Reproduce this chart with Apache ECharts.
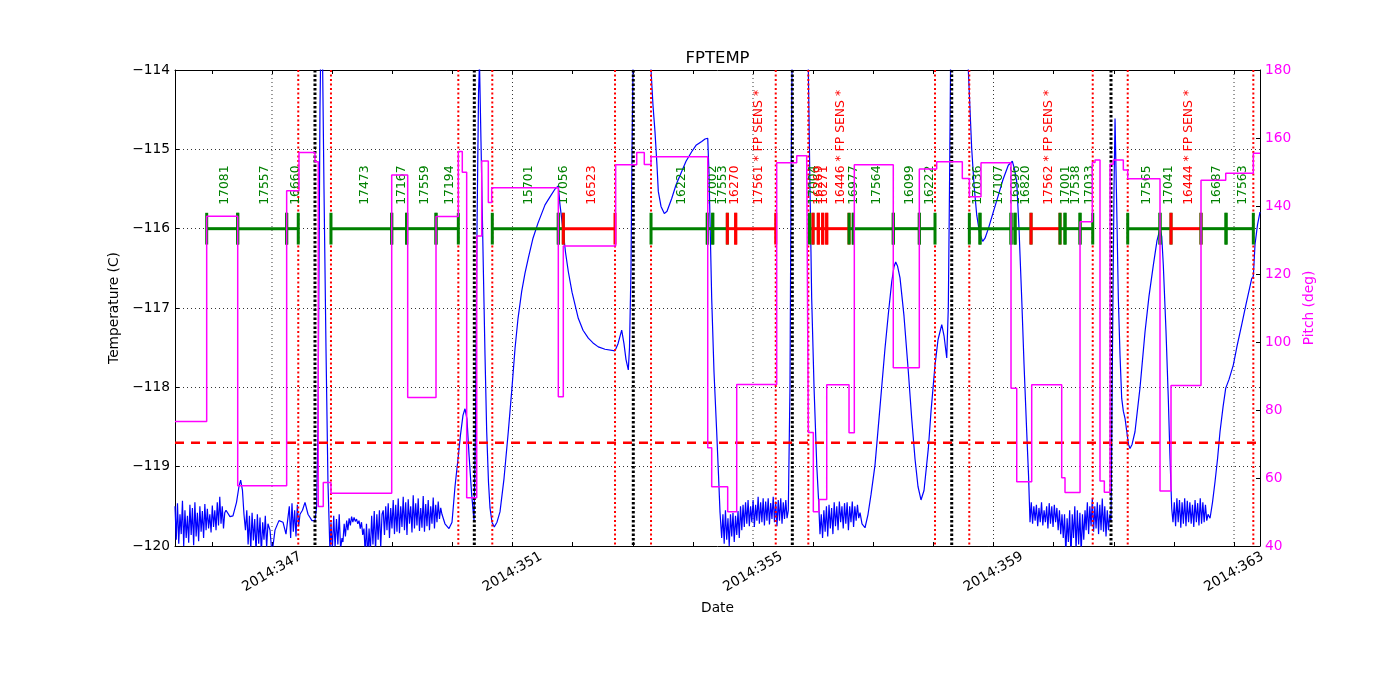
<!DOCTYPE html>
<html><head><meta charset="utf-8">
<script src="https://cdn.jsdelivr.net/npm/echarts@6.0.0/dist/echarts.min.js"></script>
<style>html,body{margin:0;padding:0;background:#fff;}#c{width:1400px;height:700px;}</style>
</head><body><div id="c"></div>
<script>
// ---------------- DATA ----------------
const X_MIN = 345.387, X_MAX = 363.432;
const dayTicks = [346,347,348,349,350,351,352,353,354,355,356,357,358,359,360,361,362,363];
const labelDays = [347,351,355,359,363];
const gridDays = [347,351,355,359,363];
const radZoneDays = [347.437,347.981,350.099,350.664,352.705,353.304,355.378,355.920,358.027,358.597,360.650,361.232,363.321];
const perigeeDays = [347.715,350.365,353.009,355.654,358.305,360.954];
const planLimit = -118.7;

const obsStart = [345.914,346.430,347.244,347.981,348.991,349.240,349.728,350.664,351.762,351.845,353.304,354.240,354.330,354.573,354.712,355.940,355.998,356.086,356.159,356.226,356.597,356.668,357.333,357.766,358.598,358.775,359.291,359.358,359.624,360.106,360.189,360.439,361.232,361.769,361.952,362.451,362.867];
const obsEnd = [346.430,347.244,347.437,348.991,349.240,349.728,350.099,351.762,351.845,352.705,354.240,354.330,354.573,354.712,355.378,355.998,356.086,356.159,356.226,356.597,356.668,357.333,357.766,358.027,358.775,359.291,359.358,359.624,360.106,360.189,360.439,360.650,361.769,361.952,362.451,362.867,363.321];
const obsIds = ['17081','17557','16660','17473','17167','17559','17194','15701','17056','16523','16221','17002','17553','16270','17561 * FP SENS *','17004','16269','16271','','16446 * FP SENS *','16977','17564','16099','16222','17036','17107','16996','16820','17562 * FP SENS *','17001','17538','17033','17565','17041','16444 * FP SENS *','16687','17563'];
const obsFlags = ['g','g','g','g','g','g','g','g','g','r','g','g','g','r','r','g','r','r','r','r','g','g','g','g','g','g','g','g','r','g','g','g','g','g','r','g','g'];

// FPTEMP (deg C): noisy stretches (values spread across a time span) and smooth stretches ([day, temp])
const noise1Span = [345.387, 346.235];
const noise1 = [-119.5,-119.92,-119.46,-119.97,-119.6,-119.85,-119.43,-120.0,-119.55,-119.9,-119.62,-119.96,-119.48,-119.86,-119.52,-119.99,-119.45,-119.88,-119.58,-119.94,-119.5,-119.82,-119.56,-119.9,-119.47,-119.8,-119.53,-119.78,-119.6,-119.83,-119.49,-119.76,-119.55,-119.8,-119.45,-119.74,-119.38,-119.72,-119.5,-119.78,-119.58,-119.55];
const smooth1 = [[346.268,-119.55],[346.301,-119.63],[346.351,-119.62],[346.410,-119.45],[346.451,-119.25],[346.479,-119.17],[346.509,-119.3],[346.534,-119.6]];
const noise2Span = [346.559, 346.933];
const noise2 = [-119.8,-119.55,-119.98,-119.62,-120.05,-119.58,-119.93,-119.66,-120.08,-119.6,-119.97,-119.64,-120.1,-119.7,-119.92,-119.62,-120.02,-119.72];
const smooth2 = [[346.967,-119.8],[347.000,-120.1],[347.050,-119.8],[347.116,-119.68],[347.183,-119.7],[347.233,-119.85]];
const noise3Span = [347.266, 347.466];
const noise3 = [-119.85,-119.5,-119.9,-119.46,-119.82,-119.55,-119.88,-119.48,-119.75,-119.6];
const smooth3 = [[347.507,-119.55],[347.549,-119.45],[347.599,-119.6],[347.665,-119.68],[347.715,-119.68],[347.743,-119.5],[347.765,-118.5],[347.782,-116.5],[347.798,-114.5],[347.815,-113.5],[347.840,-113.8],[347.865,-115.5],[347.898,-117.5],[347.931,-119.2],[347.965,-120.1]];
const noise4aSpan = [347.981, 348.164];
const noise4a = [-119.7,-120.05,-119.62,-120.02,-119.66,-119.98,-119.6,-120.04,-119.9];
const noise4bSpan = [348.18, 348.53];
const noise4b = [-119.95,-119.72,-119.88,-119.68,-119.8,-119.65,-119.74,-119.63,-119.7,-119.64,-119.69,-119.66,-119.72,-119.68,-119.78,-119.7,-119.86,-119.78];
const noise4cSpan = [348.55, 348.83];
const noise4c = [-120.1,-119.72,-120.15,-119.78,-120.08,-119.62,-119.98,-119.56,-120.06,-119.6,-119.92,-119.55,-120.02,-119.6];
const noise4dSpan = [348.85, 349.827];
const noise4d = [-119.55,-119.86,-119.5,-119.8,-119.46,-119.9,-119.52,-119.78,-119.42,-119.85,-119.48,-119.82,-119.4,-119.84,-119.5,-119.76,-119.38,-119.8,-119.45,-119.86,-119.41,-119.72,-119.5,-119.83,-119.36,-119.78,-119.46,-119.74,-119.4,-119.81,-119.52,-119.77,-119.37,-119.82,-119.47,-119.75,-119.42,-119.8,-119.5,-119.72,-119.39,-119.78,-119.48,-119.7,-119.44,-119.66,-119.52,-119.6];
const smooth4 = [[349.877,-119.72],[349.944,-119.78],[349.994,-119.7],[350.044,-119.25],[350.094,-118.9],[350.135,-118.6],[350.177,-118.35],[350.210,-118.27],[350.243,-118.4],[350.277,-118.85],[350.321,-119.35],[350.360,-119.68],[350.385,-118.5],[350.410,-116],[350.435,-114.3],[350.451,-113.9],[350.476,-114.9],[350.514,-116.46],[350.543,-117.6],[350.571,-118.56],[350.601,-119.2],[350.626,-119.52],[350.659,-119.7],[350.697,-119.76],[350.742,-119.7],[350.792,-119.57],[350.859,-119.15],[350.930,-118.56],[350.992,-118.0],[351.042,-117.51],[351.092,-117.13],[351.153,-116.79],[351.208,-116.56],[351.263,-116.37],[351.341,-116.12],[351.424,-115.93],[351.541,-115.70],[351.624,-115.6],[351.707,-115.5],[351.762,-115.46],[351.790,-115.7],[351.845,-116.04],[351.882,-116.3],[351.928,-116.54],[351.990,-116.8],[352.094,-117.13],[352.173,-117.28],[352.261,-117.38],[352.339,-117.44],[352.427,-117.49],[352.538,-117.52],[352.705,-117.54],[352.755,-117.45],[352.816,-117.28],[352.854,-117.45],[352.888,-117.65],[352.926,-117.78],[352.946,-117.5],[352.971,-116.5],[352.988,-115.0],[353.004,-114.0],[353.021,-113.0],[353.121,-112.0],[353.254,-113.0],[353.304,-114.0],[353.337,-114.45],[353.370,-114.78],[353.403,-115.2],[353.425,-115.53],[353.470,-115.72],[353.525,-115.81],[353.570,-115.78],[353.648,-115.62],[353.719,-115.45],[353.814,-115.28],[353.886,-115.15],[353.980,-115.03],[354.052,-114.95],[354.147,-114.90],[354.202,-114.87],[354.247,-114.86],[354.268,-115.3],[354.313,-116.88],[354.351,-117.8],[354.396,-118.56],[354.426,-119.1],[354.451,-119.57]];
const noise5Span = [354.479, 355.587];
const noise5 = [-119.9,-119.6,-119.97,-119.55,-119.92,-119.65,-120.0,-119.6,-119.88,-119.58,-119.95,-119.62,-119.86,-119.56,-119.9,-119.5,-119.8,-119.48,-119.76,-119.45,-119.72,-119.42,-119.75,-119.5,-119.7,-119.42,-119.76,-119.48,-119.68,-119.38,-119.72,-119.45,-119.7,-119.4,-119.74,-119.44,-119.68,-119.4,-119.73,-119.46,-119.66,-119.38,-119.7,-119.44,-119.75,-119.42,-119.68,-119.4,-119.72,-119.45,-119.66,-119.42,-119.65,-119.55];
const smooth5 = [[355.615,-118.0],[355.632,-115.5],[355.654,-113.5],[355.882,-113.5],[355.920,-114.0],[355.948,-115.5],[355.976,-116.88],[356.015,-118.0],[356.060,-118.98],[356.089,-119.4]];
const noise6Span = [356.114, 356.780];
const noise6 = [-119.85,-119.6,-119.9,-119.55,-119.82,-119.5,-119.88,-119.48,-119.78,-119.52,-119.85,-119.45,-119.75,-119.5,-119.8,-119.44,-119.7,-119.5,-119.78,-119.46,-119.72,-119.45,-119.8,-119.5,-119.7,-119.44,-119.76,-119.5,-119.68,-119.48,-119.65,-119.58];
const smooth6 = [[356.813,-119.72],[356.863,-119.77],[356.913,-119.6],[356.963,-119.35],[357.029,-118.98],[357.112,-118.25],[357.195,-117.51],[357.254,-117.05],[357.307,-116.67],[357.345,-116.48],[357.373,-116.42],[357.403,-116.47],[357.445,-116.62],[357.511,-117.1],[357.583,-117.80],[357.640,-118.4],[357.694,-118.9],[357.744,-119.25],[357.794,-119.42],[357.844,-119.3],[357.916,-118.77],[357.961,-118.3],[358.027,-117.72],[358.077,-117.4],[358.139,-117.21],[358.177,-117.35],[358.222,-117.63],[358.248,-117.0],[358.268,-115.5],[358.285,-114.0],[358.301,-113.0],[358.543,-113.0],[358.581,-114.0],[358.637,-114.99],[358.676,-115.45],[358.721,-115.83],[358.767,-116.05],[358.820,-116.16],[358.859,-116.12],[358.914,-116.0],[358.992,-115.8],[359.080,-115.58],[359.158,-115.38],[359.246,-115.2],[359.313,-115.15],[359.349,-115.25],[359.386,-115.41],[359.424,-116.0],[359.469,-116.88],[359.507,-117.7],[359.552,-118.56],[359.582,-119.1]];
const noise7aSpan = [359.607, 360.139];
const noise7a = [-119.7,-119.45,-119.72,-119.5,-119.68,-119.48,-119.75,-119.52,-119.7,-119.45,-119.74,-119.55,-119.7,-119.5,-119.78,-119.46,-119.72,-119.5,-119.76,-119.48,-119.7,-119.52,-119.8,-119.55,-119.85,-119.6];
const noise7bSpan = [360.16, 360.522];
const noise7b = [-119.9,-119.6,-120.1,-119.65,-119.95,-119.55,-120.15,-119.6,-119.9,-119.5,-120.05,-119.55,-119.98,-119.58,-120.1,-119.6,-119.92,-119.55];
const noise7cSpan = [360.54, 360.954];
const noise7c = [-119.8,-119.45,-119.85,-119.5,-119.75,-119.4,-119.82,-119.5,-119.78,-119.45,-119.85,-119.48,-119.8,-119.4,-119.82,-119.5,-119.88,-119.55,-119.8,-119.6,-119.7];
const smooth7 = [[360.979,-117.5],[361.004,-115.5],[361.021,-114.61],[361.046,-115.6],[361.076,-116.88],[361.104,-117.6],[361.132,-118.14],[361.159,-118.3],[361.187,-118.39],[361.215,-118.55],[361.245,-118.72],[361.270,-118.77],[361.304,-118.72],[361.353,-118.56],[361.437,-118.0],[361.520,-117.30],[361.586,-116.85],[361.658,-116.46],[361.719,-116.15],[361.769,-116.0],[361.798,-116.1],[361.824,-116.46],[361.869,-117.3],[361.907,-118.14],[361.936,-118.9],[361.964,-119.53]];
const noise8Span = [361.985, 362.568];
const noise8 = [-119.7,-119.45,-119.75,-119.4,-119.7,-119.42,-119.77,-119.45,-119.72,-119.4,-119.75,-119.43,-119.7,-119.45,-119.72,-119.48,-119.76,-119.42,-119.7,-119.46,-119.74,-119.4,-119.72,-119.45,-119.7,-119.48,-119.68,-119.6];
const smooth8 = [[362.601,-119.65],[362.642,-119.45],[362.684,-119.19],[362.726,-118.9],[362.767,-118.56],[362.817,-118.25],[362.862,-118.01],[362.917,-117.9],[362.988,-117.72],[363.050,-117.48],[363.128,-117.21],[363.200,-116.95],[363.294,-116.63],[363.321,-116.6],[363.349,-116.2],[363.391,-115.95],[363.432,-115.79]];

// Pitch (deg): value held from each time until the next
const pitch = [[345.387,76.6],[345.914,137.0],[346.430,57.7],[347.244,144.5],[347.449,155.7],[347.715,153.0],[347.770,51.6],[347.853,58.7],[347.981,55.5],[348.991,149.1],[349.257,83.7],[349.728,136.9],[350.099,156.0],[350.165,149.9],[350.238,54.2],[350.405,131.2],[350.488,153.2],[350.598,141.0],[350.654,145.4],[351.762,83.9],[351.845,128.2],[352.716,152.1],[353.066,155.7],[353.192,152.2],[353.304,154.5],[354.247,68.9],[354.313,57.4],[354.579,50.1],[354.729,87.5],[355.394,152.7],[355.727,154.8],[355.893,153.5],[355.920,73.4],[356.003,50.1],[356.098,53.7],[356.226,87.4],[356.597,73.3],[356.685,152.1],[357.333,92.4],[357.766,150.9],[358.055,153.0],[358.481,148.1],[358.598,142.7],[358.792,152.7],[359.291,86.4],[359.386,58.9],[359.635,87.4],[360.134,60.1],[360.189,55.7],[360.439,135.4],[360.643,152.8],[360.688,153.5],[360.771,59.1],[360.843,55.8],[360.938,152.3],[360.993,153.5],[361.159,150.6],[361.232,148.0],[361.769,56.2],[361.952,87.2],[362.451,147.6],[362.862,149.6],[363.321,155.5],[363.432,155.5]];

// ---------------- BUILD ----------------
function spread(span, vals){
  return vals.map(function(v,i){ return [span[0] + (span[1]-span[0])*i/(vals.length-1), v]; });
}
const fptemp = [].concat(
  spread(noise1Span, noise1), smooth1,
  spread(noise2Span, noise2), smooth2,
  spread(noise3Span, noise3), smooth3,
  spread(noise4aSpan, noise4a), spread(noise4bSpan, noise4b), spread(noise4cSpan, noise4c), spread(noise4dSpan, noise4d), smooth4,
  spread(noise5Span, noise5), smooth5,
  spread(noise6Span, noise6), smooth6,
  spread(noise7aSpan, noise7a), spread(noise7bSpan, noise7b), spread(noise7cSpan, noise7c), smooth7,
  spread(noise8Span, noise8), smooth8
);

const FONT = '"DejaVu Sans", sans-serif';
const GREEN = '#008000', RED = '#ff0000', BLUE = '#0000ff', MAG = '#ff00ff';
const T_TOP = -114, T_BOT = -120;

function vlineSeries(days, color, width, dash, z){
  return {
    type:'custom', z:z, silent:true, animation:false,
    data: days.map(function(d){ return [d, -117]; }),
    encode:{x:0, y:1},
    renderItem:function(params, api){
      var p = api.coord([api.value(0), T_TOP]);
      var q = api.coord([api.value(0), T_BOT]);
      return {type:'line', shape:{x1:p[0], y1:p[1], x2:q[0], y2:q[1]},
        style:{stroke:color, lineWidth:width, lineDash:dash}};
    }
  };
}

const chart = echarts.init(document.getElementById('c'), null, {renderer:'canvas'});
const xCommon = {
  type:'value', min:X_MIN, max:X_MAX,
  axisLine:{show:true, onZero:false, lineStyle:{color:'#000', width:1}},
  axisTick:{show:true, inside:true, length:4, customValues:dayTicks, lineStyle:{color:'#000', width:1}},
  splitLine:{show:false}
};
chart.setOption({
  animation:false,
  backgroundColor:'#fff',
  title:{text:'FPTEMP', left:717.5, textAlign:'center', top:50, padding:0,
    textStyle:{fontSize:16.5, fontWeight:'normal', fontFamily:FONT, color:'#000'}},
  grid:{left:175, right:140, top:70, bottom:154, containLabel:false},
  xAxis:[
    Object.assign({}, xCommon, {
      position:'bottom',
      axisLabel:{customValues:labelDays, formatter:function(v){ return '2014:' + Math.round(v); },
        rotate:30, align:'center', verticalAlign:'middle', margin:26,
        fontSize:13.75, fontFamily:FONT, color:'#000'},
      name:'Date', nameLocation:'middle', nameGap:47,
      nameTextStyle:{fontSize:13.75, fontFamily:FONT, color:'#000'}
    }),
    Object.assign({}, xCommon, {position:'top', axisLabel:{show:false}})
  ],
  yAxis:[
    {type:'value', min:-120, max:-114, interval:1, position:'left',
      axisLine:{show:true, onZero:false, lineStyle:{color:'#000', width:1}},
      axisTick:{show:true, inside:true, length:4, lineStyle:{color:'#000'}},
      axisLabel:{formatter:function(v){ return String(v).replace('-', '\u2212'); }, margin:5,
        fontSize:13.75, fontFamily:FONT, color:'#000'},
      splitLine:{show:true, lineStyle:{color:'#000', type:[1,3], width:0.8}},
      name:'Temperature (C)', nameLocation:'middle', nameGap:45, nameRotate:90,
      nameTextStyle:{fontSize:13.75, fontFamily:FONT, color:'#000'}},
    {type:'value', min:40, max:180, interval:20, position:'right',
      axisLine:{show:true, onZero:false, lineStyle:{color:'#000', width:1}},
      axisTick:{show:true, inside:true, length:4, lineStyle:{color:'#000'}},
      axisLabel:{margin:5, fontSize:13.75, fontFamily:FONT, color:MAG},
      splitLine:{show:false},
      name:'Pitch (deg)', nameLocation:'middle', nameGap:33, nameRotate:90,
      nameTextStyle:{fontSize:13.75, fontFamily:FONT, color:MAG}}
  ],
  series:[
    vlineSeries(gridDays, '#000', 0.8, [1,3], 1),
    {type:'line', name:'FPTEMP', data:fptemp, z:2, showSymbol:false, symbol:'none', clip:true,
      lineStyle:{color:BLUE, width:1.2}, itemStyle:{color:BLUE}, animation:false, silent:true},
    vlineSeries(radZoneDays, RED, 2, [2,2.5], 3),
    vlineSeries(perigeeDays, '#000', 3, [2.5,2], 3),
    {type:'custom', z:4, silent:true, animation:false,
      data:[[X_MIN, planLimit]], encode:{x:0, y:1},
      renderItem:function(params, api){
        var p = api.coord([X_MIN, planLimit]);
        var q = api.coord([X_MAX, planLimit]);
        return {type:'line', shape:{x1:p[0], y1:p[1], x2:q[0], y2:q[1]},
          style:{stroke:RED, lineWidth:2.5, lineDash:[9,7]}};
      }},
    {type:'custom', z:5, silent:true, animation:false,
      data: obsStart.map(function(s,i){ return [s, obsEnd[i], -116]; }),
      encode:{x:[0,1], y:2},
      renderItem:function(params, api){
        var i = params.dataIndex;
        var col = obsFlags[i] === 'r' ? RED : GREEN;
        var s = api.coord([api.value(0), -116]);
        var e = api.coord([api.value(1), -116]);
        var top = api.coord([api.value(0), -115.8])[1];
        var bot = api.coord([api.value(0), -116.2])[1];
        var lab = api.coord([(api.value(0) + api.value(1)) / 2, -115.70]);
        return {type:'group', children:[
          {type:'line', shape:{x1:s[0], y1:s[1], x2:e[0], y2:e[1]}, style:{stroke:col, lineWidth:3}},
          {type:'line', shape:{x1:s[0], y1:top, x2:s[0], y2:bot}, style:{stroke:col, lineWidth:3}},
          {type:'line', shape:{x1:e[0], y1:top, x2:e[0], y2:bot}, style:{stroke:col, lineWidth:3}},
          {type:'text', x:lab[0] + 3, y:lab[1], rotation:Math.PI/2,
            style:{text:obsIds[i], fill:col, font:'12.4px ' + FONT, align:'left', verticalAlign:'middle'}}
        ]};
      }},
    {type:'line', name:'Pitch', yAxisIndex:1, data:pitch, step:'end', z:10, showSymbol:false, symbol:'none',
      clip:true, lineStyle:{color:MAG, width:1.5}, itemStyle:{color:MAG}, animation:false, silent:true}
  ]
});
</script></body></html>
